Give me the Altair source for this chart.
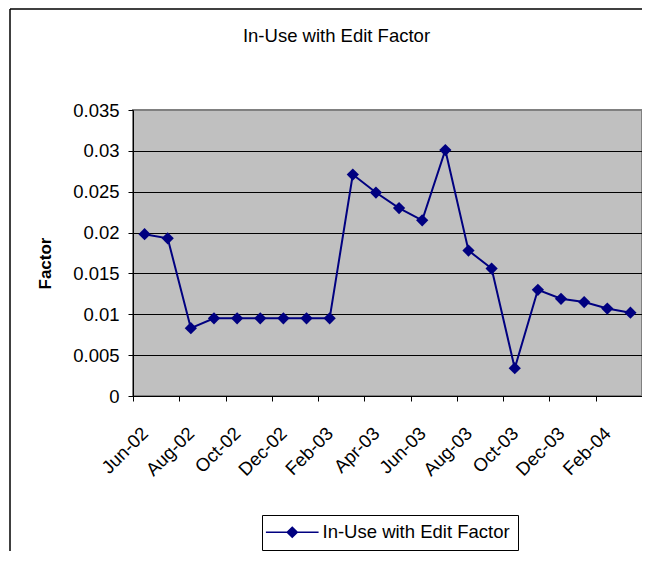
import altair as alt
import pandas as pd

# ---- data ----
months = ["Jun-02", "Jul-02", "Aug-02", "Sep-02", "Oct-02", "Nov-02", "Dec-02",
          "Jan-03", "Feb-03", "Mar-03", "Apr-03", "May-03", "Jun-03", "Jul-03",
          "Aug-03", "Sep-03", "Oct-03", "Nov-03", "Dec-03", "Jan-04", "Feb-04",
          "Mar-04"]
values = [0.0198, 0.0193, 0.0083, 0.0095, 0.0095, 0.0095, 0.0095,
          0.0095, 0.0095, 0.0271, 0.0249, 0.0230, 0.0215, 0.0301,
          0.0178, 0.0156, 0.0034, 0.0130, 0.0119, 0.0115, 0.0107,
          0.0102]
series_name = "In-Use with Edit Factor"
chart_title = "In-Use with Edit Factor"
y_title = "Factor"
y_ticks = [0, 0.005, 0.01, 0.015, 0.02, 0.025, 0.03, 0.035]

df = pd.DataFrame({
    "month": months,
    "value": values,
    "idx": list(range(len(months))),
    "series": [series_name] * len(months),
})

W, H = 509, 286
n = len(months)
band = W / n
FONT = "Liberation Sans, Arial, sans-serif"
NAVY = "#000080"

label_js = "[" + ",".join(f"'{m}'" for m in months) + "]"

x_enc = alt.X(
    "pos:Q",
    scale=alt.Scale(domain=[0, n], nice=False, zero=False),
    axis=alt.Axis(
        values=list(range(0, n + 1, 2)),
        labelExpr=f"datum.value < {n} ? {label_js}[datum.value] : ''",
        labelOffset=band / 2,
        labelAngle=315,
        labelAlign="right",
        labelBaseline="middle",
        labelPadding=29,
        labelOverlap=False,
        labelFont=FONT,
        labelFontSize=18.5,
        labelColor="black",
        tickSize=5,
        tickColor="black",
        domainColor="black",
        grid=False,
        title=None,
    ),
)

y_enc = alt.Y(
    "value:Q",
    scale=alt.Scale(domain=[0, 0.035], nice=False),
    axis=alt.Axis(
        values=y_ticks,
        format="~g",
        labelFont=FONT,
        labelFontSize=18.5,
        labelColor="black",
        labelPadding=9,
        tickSize=5,
        tickColor="black",
        domainColor="black",
        grid=True,
        gridColor={"condition": {"test": "datum.value >= 0.035", "value": "#808080"},
                   "value": "black"},
        gridWidth=1,
        title=y_title,
        titleFont=FONT,
        titleFontSize=17,
        titleFontWeight="bold",
        titleColor="black",
        titleAngle=270,
        titleX=-88,
        titleY=153,
        titleAlign="center",
        titleBaseline="middle",
    ),
)

base = alt.Chart(df).transform_calculate(pos="datum.idx + 0.5")

line = base.mark_line(color=NAVY, strokeWidth=2).encode(x=x_enc, y=y_enc)

legend_symbol = "M-4.3,-0.12H4.3V0.12H-4.3ZM0,-1L1,0L0,1L-1,0Z"

points = base.mark_point(shape="diamond", filled=True, size=150, opacity=1).encode(
    x=x_enc,
    y=y_enc,
    color=alt.Color(
        "series:N",
        scale=alt.Scale(range=[NAVY]),
        legend=alt.Legend(
            title=None,
            orient="none",
            legendX=129,
            legendY=405,
            strokeColor="black",
            fillColor="white",
            padding=8,
            symbolType=legend_symbol,
            symbolSize=150,
            symbolOffset=13,
            symbolStrokeWidth=0,
            symbolOpacity=1,
            labelOffset=21,
            labelFont=FONT,
            labelFontSize=18.5,
            labelColor="black",
            labelLimit=0,
        ),
    ),
)

frame_df = pd.DataFrame({"k": [0]})
frame_top = alt.Chart(frame_df).mark_rule(color="black", strokeWidth=1.5).encode(
    x=alt.value(-123), x2=alt.value(W + 30), y=alt.value(-101)
)
frame_left = alt.Chart(frame_df).mark_rule(color="black", strokeWidth=1.5).encode(
    x=alt.value(-123), y=alt.value(-101), y2=alt.value(H + 200)
)

chart = (
    alt.layer(frame_top, frame_left, line, points)
    .properties(
        width=W,
        height=H,
        background="white",
        autosize=alt.AutoSizeParams(type="none"),
        padding={"left": 125, "top": 102, "right": 0, "bottom": 155},
        title=alt.Title(
            chart_title,
            font=FONT,
            fontSize=18.5,
            fontWeight="normal",
            color="black",
            anchor="middle",
            frame="group",
            dx=-51,
            offset=-37,
        ),
    )
    .configure_view(fill="#C0C0C0", stroke="#808080", strokeWidth=2)
)

chart.save("out.html", embed_options={"renderer": "svg", "actions": False})
